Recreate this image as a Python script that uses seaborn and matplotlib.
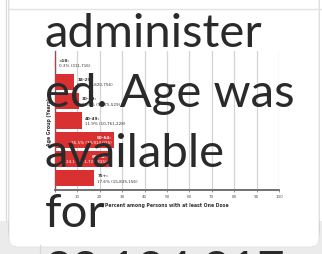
import matplotlib
matplotlib.use("Agg")
import matplotlib.pyplot as plt
import seaborn as sns
import pandas as pd
from matplotlib.patches import FancyBboxPatch, Rectangle

# ---- data ----
groups = ["<18", "18-29", "30-39", "40-49", "50-64", "65-74", "75+"]
percents = [0.3, 8.7, 10.6, 11.9, 26.5, 24.1, 17.6]
counts = ["311,716", "7,820,756", "9,575,529", "10,761,228", "23,914,025", "21,726,835", "15,835,156"]
inside = [False, False, False, False, True, True, False]
xticks = [0, 10, 20, 30, 40, 50, 60, 70, 80, 90, 100]
overlay_lines = ["administer", "ed. Age was", "available", "for", "33,124,317"]

df = pd.DataFrame({"group": groups, "pct": percents})

W, H = 322, 255
fig = plt.figure(figsize=(W / 100, H / 100), dpi=100)
fig.patch.set_facecolor("white")

# ---- page background / card ----
bg = fig.add_axes([0, 0, 1, 1], zorder=0)
bg.set_xlim(0, W)
bg.set_ylim(H, 0)
bg.axis("off")
bg.add_patch(Rectangle((0, 222), W, 40, color="#ebebeb", lw=0))
bg.plot([6, 6], [0, 222], color="#dcdcdc", lw=1)
bg.plot([40, 40], [246, 255], color="#d8d8d8", lw=0.8)
for i, a in enumerate([0.05, 0.05, 0.06, 0.07]):
    off = 3 - i * 0.7
    bg.add_patch(FancyBboxPatch((9 - off * 0.3, -20 + off), 310 + off * 0.6, 268 - 10 + off,
                                boxstyle="round,pad=0,rounding_size=9",
                                fc="black", ec="none", alpha=a))
bg.add_patch(FancyBboxPatch((9, -20), 310, 268,
                            boxstyle="round,pad=0,rounding_size=9",
                            fc="white", ec="#e2e2e2", lw=0.6))
bg.plot([9, W], [10, 10], color="#e3e3e3", lw=1)

# ---- chart ----
red = "#d93131"
ax = fig.add_axes([55 / W, (H - 191) / H, 224 / W, 139 / H], zorder=2)
ax.patch.set_alpha(0)
sns.barplot(data=df, x="pct", y="group", orient="h", color=red, width=0.83,
            saturation=1, ax=ax, zorder=3)
ax.set_xlim(0, 100)
ax.set_ylim(6.6, -0.6)
ax.set_xticks(xticks)
ax.set_xticklabels([str(t) for t in xticks], fontsize=3, color="#555555")
ax.set_yticks([])
ax.tick_params(axis="x", length=1.5, width=0.5, pad=1.5, color="#666666")
ax.grid(axis="x", color="#d4d4d4", lw=0.9, zorder=0)
ax.set_axisbelow(True)
for s in ["top", "right"]:
    ax.spines[s].set_visible(False)
ax.spines["bottom"].set_color("#666666")
ax.spines["bottom"].set_linewidth(1.3)
ax.spines["left"].set_color("#666666")
ax.spines["left"].set_linewidth(1.0)
ax.set_xlabel("Percent among Persons with at least One Dose", fontsize=3.3,
              fontweight="bold", color="#333333", labelpad=3)
ax.set_ylabel("Age Group (Years)", fontsize=3.3, fontweight="bold",
              color="#333333", labelpad=2)

for i, (g, p, c, ins) in enumerate(zip(groups, percents, counts, inside)):
    if ins:
        x, ha, col = p - 1.0, "right", "white"
    else:
        x, ha, col = p + 1.3, "left", "#333333"
    ax.text(x, i - 0.05, g + ":", fontsize=3, fontweight="bold", color=col,
            ha=ha, va="bottom", zorder=5)
    ax.text(x, i + 0.02, f"{p}% ({c})", fontsize=3, color=col,
            ha=ha, va="top", zorder=5)

# ---- overlay text ----
top = fig.add_axes([0, 0, 1, 1], zorder=10)
top.set_xlim(0, W)
top.set_ylim(H, 0)
top.axis("off")
top.patch.set_alpha(0)
baselines = [47, 107, 167, 227, 284]
for line, yb in zip(overlay_lines, baselines):
    top.text(45, yb, line, fontsize=34, family=["Lato", "DejaVu Sans"],
             color="#2a2a2a", va="baseline", ha="left", clip_on=False)

fig.savefig("out.png", dpi=100)
